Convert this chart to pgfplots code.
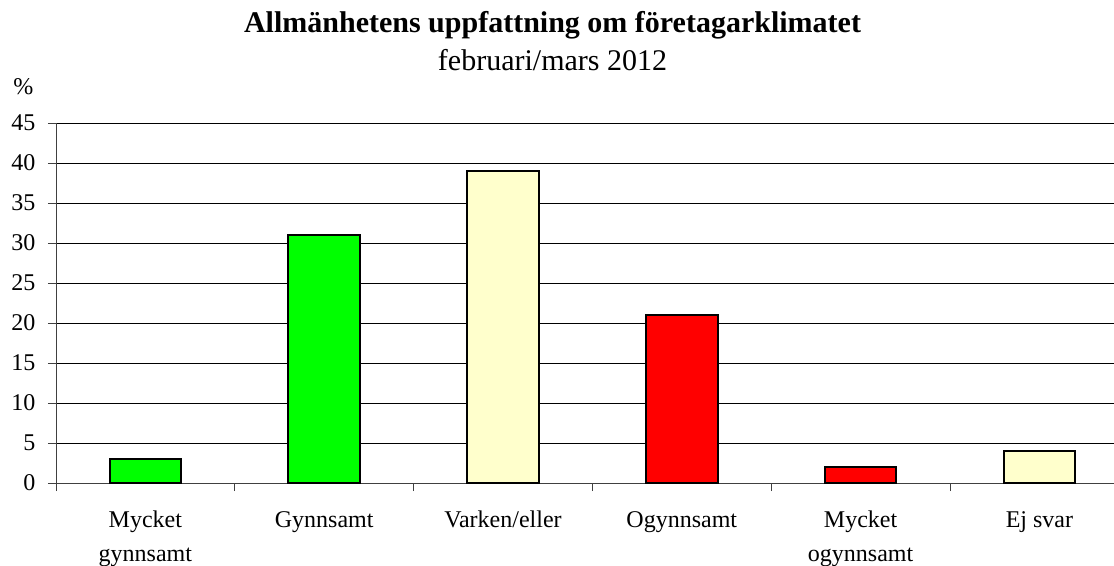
\documentclass[border=0pt]{standalone}
\usepackage{fontspec}
\setmainfont{Liberation Serif}
\usepackage{pgfplots}
\pgfplotsset{compat=1.18}
\definecolor{bgreen}{RGB}{0,255,0}
\definecolor{bred}{RGB}{255,0,0}
\definecolor{byellow}{RGB}{255,255,204}
\begin{document}
\begin{tikzpicture}
\useasboundingbox (0,0) rectangle (835.5pt,423.75pt);
\clip (0,0) rectangle (835.5pt,423.75pt);
\begin{axis}[
  at={(42pt,61.5pt)}, anchor=south west,
  scale only axis, width=793.5pt, height=270pt,
  xmin=0, xmax=5.917, ymin=0, ymax=45,
  ybar, bar width=0.4, bar shift=0pt,
  axis lines=left, axis line style={-, draw=black!75},
  ytick={0,5,...,45},
  ymajorgrids, grid style={black, line width=0.6pt},
  xtick={0,1,2,3,4,5},
  xticklabels={},
  tick align=outside, major tick length=6pt,
  tick style={black!75, line width=0.6pt},
  extra x ticks={0.5,1.5,2.5,3.5,4.5,5.5},
  extra x tick labels={{Mycket\\gynnsamt},{Gynnsamt\\\mbox{}},{Varken/eller\\\mbox{}},{Ogynnsamt\\\mbox{}},{Mycket\\ogynnsamt},{Ej svar\\\mbox{}}},
  extra x tick style={major tick length=0pt, grid=none,
    tick label style={align=center, anchor=base, yshift=-59pt, font=\fontsize{18}{25.5}\selectfont}},
  ticklabel style={font=\fontsize{18}{21}\selectfont},
  /pgf/number format/assume math mode=true,
  yticklabel style={xshift=-6pt},
]
\addplot[fill=bgreen, draw=black, line width=1.5pt] coordinates {(0.5,3) (1.5,31)};
\addplot[fill=byellow, draw=black, line width=1.5pt] coordinates {(2.5,39) (5.5,4)};
\addplot[fill=bred, draw=black, line width=1.5pt] coordinates {(3.5,21) (4.5,2)};
\end{axis}
\node[anchor=base, font=\fontsize{22.5}{27}\selectfont\bfseries] at (414.4pt,399pt) {Allmänhetens uppfattning om företagarklimatet};
\node[anchor=base, font=\fontsize{22.5}{27}\selectfont] at (414.4pt,370.5pt) {februari/mars 2012};
\node[anchor=base west, inner sep=0pt, font=\fontsize{18}{21}\selectfont] at (9.75pt,352.5pt) {\%};
\end{tikzpicture}
\end{document}
